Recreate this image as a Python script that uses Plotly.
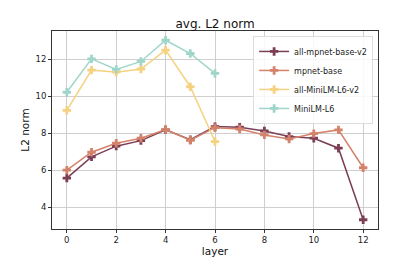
import plotly.graph_objects as go

layers_full = list(range(13))
layers_small = list(range(7))

all_mpnet_base_v2 = [5.57, 6.72, 7.30, 7.60, 8.18, 7.65, 8.36, 8.33, 8.12, 7.82, 7.73, 7.19, 3.31]
mpnet_base = [6.00, 6.97, 7.46, 7.73, 8.20, 7.62, 8.30, 8.23, 7.91, 7.69, 7.98, 8.18, 6.13]
all_minilm_l6_v2 = [9.24, 11.42, 11.31, 11.48, 12.50, 10.52, 7.55]
minilm_l6 = [10.22, 12.03, 11.46, 11.89, 13.04, 12.32, 11.24]

series = [
    ("all-mpnet-base-v2", layers_full, all_mpnet_base_v2, "#7b3e55"),
    ("mpnet-base", layers_full, mpnet_base, "#d4826a"),
    ("all-MiniLM-L6-v2", layers_small, all_minilm_l6_v2, "#f5d27f"),
    ("MiniLM-L6", layers_small, minilm_l6, "#a0d6c9"),
]

fig = go.Figure()
for name, xs, ys, color in series:
    fig.add_trace(go.Scatter(
        x=xs, y=ys, name=name, mode="lines+markers",
        line=dict(color=color, width=1.5),
        marker=dict(symbol="cross", size=7, color=color),
    ))

axis_common = dict(
    showline=True, linecolor="#333333", linewidth=1, mirror=True,
    showgrid=True, gridcolor="#cfcfcf", gridwidth=1,
    ticks="outside", ticklen=3, tickcolor="#333333",
    tickfont=dict(family="DejaVu Sans", size=8.5, color="#222222"),
    zeroline=False, automargin=False,
)

fig.update_layout(
    width=420, height=262,
    margin=dict(l=52, r=42, t=31, b=33, autoexpand=False),
    paper_bgcolor="white", plot_bgcolor="white",
    title=dict(text="avg. L2 norm", x=0.512, xanchor="center", y=0.91, yanchor="middle",
               font=dict(family="DejaVu Sans", size=12, color="#111111"), automargin=False),
    xaxis=dict(range=[-0.6, 12.6], tickvals=[0, 2, 4, 6, 8, 10, 12],
               title=dict(text="layer", standoff=3, font=dict(family="DejaVu Sans", size=10.5, color="#111111")),
               **axis_common),
    yaxis=dict(range=[2.81, 13.54], tickvals=[4, 6, 8, 10, 12],
               title=dict(text="L2 norm", standoff=3, font=dict(family="DejaVu Sans", size=10.5, color="#111111")),
               **axis_common),
    legend=dict(x=0.985, y=0.975, xanchor="right", yanchor="top",
                bgcolor="rgba(255,255,255,0.85)", bordercolor="#dddddd", borderwidth=1,
                font=dict(family="DejaVu Sans", size=8, color="#222222"),
                tracegroupgap=0, itemwidth=30),
    showlegend=True,
    hovermode=False,
)

fig.write_html("out.html", config={"displayModeBar": False},
               post_script="document.body.style.margin='0';document.body.style.padding='0';")
